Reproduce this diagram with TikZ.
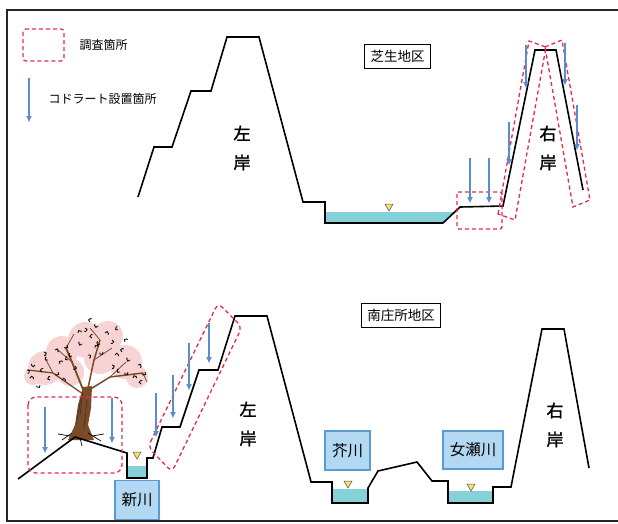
\documentclass[tikz,border=0pt]{standalone}
\usepackage{fontspec}
\setmainfont{Noto Sans CJK JP}
\newfontfamily\bankfont[FakeBold=1.6]{Noto Sans CJK JP}
\usetikzlibrary{arrows.meta}
\definecolor{surveyred}{HTML}{E8294B}
\definecolor{quadratblue}{HTML}{5B8CD0}
\definecolor{waterblue}{HTML}{86D0DA}
\definecolor{riverfill}{HTML}{B2D8F2}
\definecolor{riverframe}{HTML}{5A9BD6}
\definecolor{wlyellow}{HTML}{F4E46A}
\definecolor{blossom}{HTML}{F2B6B8}
\definecolor{bark}{HTML}{7B4A26}
\begin{document}
\begin{tikzpicture}[x=1pt,y=-1pt,
  ground/.style={line width=1.6pt, line join=miter},
  survey/.style={draw=surveyred, line width=1.3pt, dash pattern=on 4pt off 3pt},
  quadrat/.style={draw=quadratblue, line width=1.8pt, -{Triangle[length=6pt,width=5pt]}},
  water/.style={fill=waterblue},
  district/.style={draw, line width=1.4pt, fill=white, inner sep=6pt, font=\fontsize{13.5}{14}\selectfont},
  river/.style={draw=riverframe, line width=1.8pt, fill=riverfill, font=\fontsize{15.5}{16}\selectfont},
  bank/.style={align=center, font=\bankfont\fontsize{17}{29}\selectfont},
  legend/.style={anchor=west, font=\fontsize{12}{13}\selectfont},
  wlevel/.pic={\draw[fill=wlyellow, draw=black!70, line width=0.5pt] (-4,0) -- (4,0) -- (0,7) -- cycle;}]
  \useasboundingbox (0,0) rectangle (618,523);
  \draw[line width=2pt, black!85] (618,10) -- (7,10) -- (7,521) -- (618,521);

  % legend
  \draw[survey, rounded corners=3] (23,29) rectangle (64,61);
  \node[legend] (legsurvey) at (76,45) {調査箇所};
  \draw[quadrat] (29,78) -- (29,122);
  \node[legend] (legquadrat) at (45,99) {コドラート設置箇所};

  % upper section
  \fill[water] (325,212) -- (455,212) -- (443,223) -- (325,223) -- cycle;
  \pic at (389,204) {wlevel};
  \draw[ground] (138,197) -- (154,147) -- (172,147) -- (191,91) -- (211,91) -- (227,37) -- (259,37)
    -- (303,202) -- (325,202) -- (325,223) -- (443,223) -- (460,207) -- (503,206)
    -- (535,50) -- (556,50) -- (583,190);
  \node[district] (shibu) at (397.5,56.5) {芝生地区};
  \node[bank] (leftup) at (242,148) {左\\岸};
  \node[bank] (rightup) at (548,148) {右\\岸};
  \draw[survey, rounded corners=2] (457,192) rectangle (502,229);
  \draw[survey] (498,214) -- (529,41) -- (546,47) -- (515,220) -- cycle;
  \draw[survey] (545,47) -- (562,40) -- (590,200) -- (573,207) -- cycle;
  \draw[quadrat] (470,158) -- (470,203);
  \draw[quadrat] (489,158) -- (489,203);
  \draw[quadrat] (509,122) -- (509,165);
  \draw[quadrat] (526,45) -- (526,88);
  \draw[quadrat] (565,43) -- (565,85);
  \draw[quadrat] (577,105) -- (577,150);

  % lower section
  \fill[water] (127,466) rectangle (147,478);
  \fill[water] (332,489) rectangle (368,503);
  \fill[water] (448,491) rectangle (493,503);
  \pic at (137,452) {wlevel};
  \pic at (348,481) {wlevel};
  \pic at (471,484) {wlevel};

  % cherry tree
  \begin{scope}
    \fill[blossom, opacity=0.6] (45,368) circle (17) (62,352) circle (16) (86,340) circle (18)
      (108,336) circle (15) (100,358) circle (16) (125,362) circle (17) (137,377) circle (11)
      (70,372) circle (14) (33,376) circle (9);
    \draw[bark, line width=1.8pt] (84,392) -- (72,362) -- (66,348);
    \draw[bark, line width=1.5pt] (88,388) -- (94,360) -- (100,340);
    \draw[bark, line width=1.5pt] (89,390) -- (110,377) -- (143,373);
    \draw[bark, line width=1.3pt] (83,394) -- (53,373) -- (28,370);
    \draw[bark, line width=0.8pt] (72,362) -- (58,350) (94,360) -- (112,348) (110,377) -- (126,362)
      (53,373) -- (45,358) (100,340) -- (90,328) (66,348) -- (74,334) (143,373) -- (147,382);
    \fill[bark] (68,440) -- (75,425) -- (78,405) -- (83,387) -- (92,386) -- (91,408) -- (88,425) -- (94,440) -- cycle;
    \draw[black!80, line width=0.6pt] (76,425) -- (81,398) (84,428) -- (87,400) (80,415) -- (83,392);
    \draw[black, line width=0.7pt] (62,440) -- (72,433) (88,433) -- (101,441) (80,438) -- (82,446)
      (70,436) -- (58,434) (92,436) -- (104,434);
    \foreach \x/\y/\a in {35/365/0, 42/372/90, 30/378/180, 48/360/45, 55/350/200, 60/364/120,
      67/345/300, 72/356/30, 78/333/150, 85/328/260, 92/338/80, 98/326/10, 105/333/190,
      112/340/270, 118/330/60, 95/348/140, 88/355/230, 103/352/330, 122/352/100, 130/360/20,
      138/365/210, 145/372/300, 133/378/160, 120/372/40, 112/365/250, 50/380/70, 40/385/330,
      62/380/180, 75/366/280, 125/342/120, 82/344/20, 27/370/240, 141/384/90, 58/372/300,
      115/355/180, 90/322/100, 68/360/60, 44/352/250, 128/372/330, 100/344/30}
      \draw[line width=0.8pt] (\x,\y) arc[start angle=\a, end angle=\a+220, radius=1.8];
  \end{scope}

  \draw[ground] (18,479) -- (75,437) -- (127,453) -- (127,478) -- (147,478) -- (147,458) -- (153,458)
    -- (162,427) -- (180,427) -- (199,370) -- (218,370) -- (235,316) -- (267,316) -- (310,478)
    -- (311,482) -- (332,482) -- (332,503) -- (368,503) -- (368,488) -- (378,471) -- (417,462)
    -- (432,481) -- (448,481) -- (448,503) -- (493,503) -- (493,487) -- (511,487)
    -- (542,329) -- (564,329) -- (589,468);
  \node[district] (minami) at (401,315.5) {南庄所地区};
  \node[bank] (leftlow) at (248,424) {左\\岸};
  \node[bank] (rightlow) at (555,425) {右\\岸};
  \node[river, minimum width=44pt, minimum height=39pt] (shinkawa) at (137,500) {新川};
  \node[river, minimum width=45pt, minimum height=39pt] (akutagawa) at (347.5,450.5) {芥川};
  \node[river, minimum width=60pt, minimum height=38pt] (nyoze) at (473,450) {女瀬川};
  \draw[survey, rounded corners=8] (28,397) rectangle (122,473);
  \draw[survey, rounded corners=6] (148,447) -- (218,303) -- (242,327) -- (172,472) -- cycle;
  \draw[quadrat] (45,407) -- (45,453);
  \draw[quadrat] (112,398) -- (112,443);
  \draw[quadrat] (156,393) -- (156,437);
  \draw[quadrat] (173,375) -- (173,418);
  \draw[quadrat] (189,343) -- (189,390);
  \draw[quadrat] (209,323) -- (209,363);
\end{tikzpicture}
\end{document}
